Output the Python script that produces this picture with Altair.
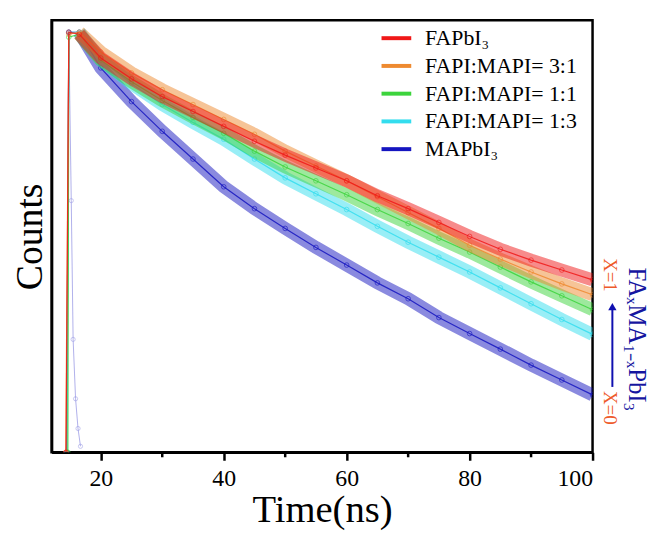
import altair as alt
import pandas as pd

# ---- data (counts on a log axis) ----
time_ns = [14.4, 14.8, 16.5, 20, 25, 30, 35, 40, 45, 50, 55, 60, 65, 70, 75, 80, 85, 90, 95, 100]
fapbi3 = [1, 17378, 16596, 9550, 5888, 3890, 2754, 1950, 1380, 1000, 741, 550, 389, 288, 209, 151, 112, 87.1, 69.2, 55.0]
fapi_mapi_31 = [1, 16596, 17378, 10965, 6761, 4571, 3236, 2291, 1622, 1096, 776, 550, 380, 263, 182, 123, 89.1, 66.1, 50.1, 38.9]
fapi_mapi_11 = [1, 15488, 16596, 9120, 5495, 3548, 2399, 1660, 1096, 759, 550, 398, 282, 204, 145, 105, 74.1, 52.5, 38.0, 27.5]
fapi_mapi_13 = [1, 17378, 17378, 9120, 5248, 3236, 2138, 1445, 912, 589, 407, 282, 191, 132, 93.3, 66.1, 45.7, 31.6, 21.9, 15.5]
mapbi3 = [1, 17378, 17378, 7586, 3467, 1738, 912, 479, 288, 182, 117, 77.6, 51.3, 35.5, 22.9, 15.8, 11.0, 7.59, 5.37, 3.80]
# onset of the rising edge (first time point) per series
rise_onset = [14.35, 14.3, 14.65, 14.5, 14.45]

irf_time = [14.4, 14.8, 15.2, 15.5, 15.9, 16.3, 16.7]
irf_counts = [1, 17378, 347, 13.8, 3.47, 1.74, 1.15]

series_names = ["FAPbI₃", "FAPI:MAPI= 3:1", "FAPI:MAPI= 1:1", "FAPI:MAPI= 1:3", "MAPbI₃"]
series_colors = ["#F01818", "#EE8A30", "#3CD43C", "#33DDEE", "#1515C0"]
series_values = [fapbi3, fapi_mapi_31, fapi_mapi_11, fapi_mapi_13, mapbi3]
draw_order = ["MAPbI₃", "FAPI:MAPI= 1:3", "FAPI:MAPI= 1:1", "FAPI:MAPI= 3:1", "FAPbI₃"]

major_ticks = [20, 40, 60, 80, 100]
minor_ticks = [30, 50, 70, 90]

ann_left = ["X=1", "X=0"]
ann_formula = "FAₓMA₁₋ₓPbI₃"

FONT = "Liberation Serif"

rows = []
for name, vals, onset in zip(series_names, series_values, rise_onset):
    times = [onset] + time_ns[1:]
    for t, c in zip(times, vals):
        rows.append({"series": name, "time": t, "counts": c})
df = pd.DataFrame(rows)
irf_df = pd.DataFrame({"time": irf_time, "counts": irf_counts})

x_enc = alt.X("time:Q",
              scale=alt.Scale(domain=[12, 100], nice=False, zero=False),
              axis=alt.Axis(values=major_ticks, title="Time(ns)", grid=False,
                            tickSize=8, tickWidth=2.5, tickColor="black",
                            domainColor="black", domainWidth=2.5,
                            labelFont=FONT, labelFontSize=24, labelColor="black",
                            labelPadding=6, titleFont=FONT, titleFontSize=39,
                            titleFontWeight="normal", titleColor="black",
                            titlePadding=1))
y_enc = alt.Y("counts:Q",
              scale=alt.Scale(type="log", domain=[1, 22909], nice=False),
              axis=alt.Axis(title="Counts", labels=False, ticks=False, grid=False,
                            domainColor="black", domainWidth=2.5,
                            titleFont=FONT, titleFontSize=38,
                            titleFontWeight="normal", titleColor="black",
                            titlePadding=2))
color_enc = alt.Color("series:N",
                      scale=alt.Scale(domain=series_names, range=series_colors),
                      legend=alt.Legend(title=None, orient="none", legendX=331, legendY=1,
                                        symbolType="stroke", symbolStrokeWidth=4,
                                        symbolSize=900, symbolOpacity=1,
                                        labelFont=FONT, labelFontSize=22,
                                        labelColor="black", labelOffset=12,
                                        rowPadding=0, padding=0))

layers = []
# faint instrument-response trace
layers.append(
    alt.Chart(irf_df).mark_line(color="#9C9CE6", strokeWidth=1, opacity=0.8, clip=True)
    .encode(x=x_enc, y=y_enc)
)
layers.append(
    alt.Chart(irf_df).mark_point(shape="circle", filled=False, color="#9C9CE6",
                                 size=18, strokeWidth=0.8, clip=True)
    .encode(x=x_enc, y=y_enc)
)
for name in draw_order:
    sub = df[df["series"] == name]
    base = alt.Chart(sub)
    layers.append(
        base.transform_filter("datum.time >= 16.5")
        .mark_line(strokeWidth=13, opacity=0.5, clip=True)
        .encode(x=x_enc, y=y_enc, color=color_enc)
    )
    layers.append(
        base.mark_line(strokeWidth=1.2, opacity=0.85, clip=True)
        .encode(x=x_enc, y=y_enc, color=color_enc)
    )
    layers.append(
        base.mark_point(shape="circle", filled=False, size=22, strokeWidth=0.9, clip=True)
        .encode(x=x_enc, y=y_enc, color=color_enc)
    )

# minor ticks on the time axis
layers.append(
    alt.Chart(pd.DataFrame({"time": minor_ticks})).mark_rule(color="black", strokeWidth=2.5)
    .encode(x=x_enc, y=alt.value(436), y2=alt.value(441))
)

# right-hand annotation
ann_df = pd.DataFrame({"label": ann_left, "py": [257, 391]})
layers.append(
    alt.Chart(ann_df).mark_text(angle=90, font=FONT, fontSize=19, color="#EE5A2A",
                                align="center", baseline="middle")
    .encode(text="label:N", x=alt.value(564), y=alt.Y("py:Q", scale=None))
)
arrow_df = pd.DataFrame({"a": [0]})
layers.append(
    alt.Chart(arrow_df).mark_rule(color="#1010B0", strokeWidth=2)
    .encode(x=alt.value(566), y=alt.value(370), y2=alt.value(292))
)
layers.append(
    alt.Chart(arrow_df).mark_point(shape="triangle-up", filled=True, color="#1010B0",
                                   size=70, opacity=1)
    .encode(x=alt.value(566), y=alt.value(289))
)
formula_df = pd.DataFrame({"label": [ann_formula]})
layers.append(
    alt.Chart(formula_df).mark_text(angle=90, font=FONT, fontSize=25, color="#1515A0",
                                    align="center", baseline="middle")
    .encode(text="label:N", x=alt.value(591), y=alt.value(322))
)

chart = alt.layer(*layers).properties(
    width=546, height=436,
    background="white",
    autosize=alt.AutoSizeParams(type="none"),
    padding={"left": 44, "top": 10, "right": 60, "bottom": 82},
).configure_view(stroke="black", strokeWidth=2.5)

chart.save("out.html", embed_options={"renderer": "svg", "actions": False})
